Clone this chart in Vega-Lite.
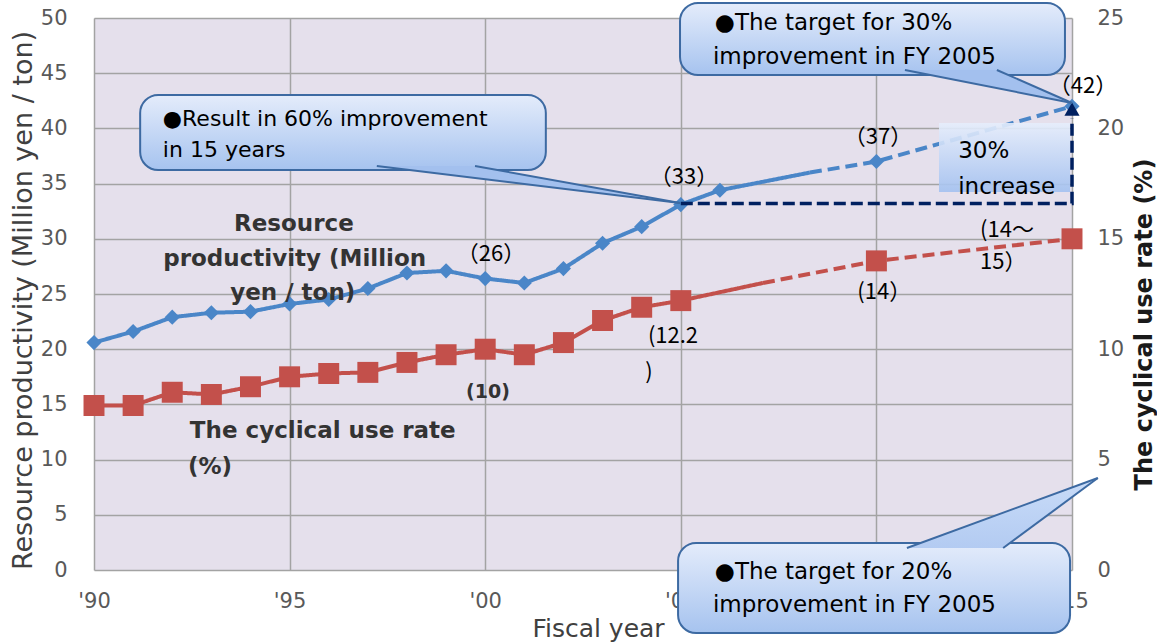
{
  "$schema": "https://vega.github.io/schema/vega-lite/v6.json",
  "width": 978,
  "height": 552,
  "autosize": {"type": "none"},
  "padding": {"left": 94, "top": 18, "right": 85, "bottom": 73},
  "background": "white",
  "config": {
    "view": {"fill": "#E5E0EC", "stroke": null},
    "font": "DejaVu Sans",
    "axis": {
      "gridColor": "#A3A3A3", "gridWidth": 1.5, "gridOpacity": 1,
      "domain": false, "ticks": false,
      "labelFont": "DejaVu Sans", "labelFontSize": 21, "labelColor": "#595959",
      "titleFont": "DejaVu Sans", "labelOverlap": false, "labelFlush": false
    }
  },
  "datasets": {
    "productivity": [
      {"year": 1990, "v": 20.6, "seg": "actual", "m": 1},
      {"year": 1991, "v": 21.6, "seg": "actual", "m": 1},
      {"year": 1992, "v": 22.9, "seg": "actual", "m": 1},
      {"year": 1993, "v": 23.3, "seg": "actual", "m": 1},
      {"year": 1994, "v": 23.4, "seg": "actual", "m": 1},
      {"year": 1995, "v": 24.1, "seg": "actual", "m": 1},
      {"year": 1996, "v": 24.5, "seg": "actual", "m": 1},
      {"year": 1997, "v": 25.5, "seg": "actual", "m": 1},
      {"year": 1998, "v": 26.9, "seg": "actual", "m": 1},
      {"year": 1999, "v": 27.1, "seg": "actual", "m": 1},
      {"year": 2000, "v": 26.4, "seg": "actual", "m": 1},
      {"year": 2001, "v": 26.0, "seg": "actual", "m": 1},
      {"year": 2002, "v": 27.3, "seg": "actual", "m": 1},
      {"year": 2003, "v": 29.6, "seg": "actual", "m": 1},
      {"year": 2004, "v": 31.1, "seg": "actual", "m": 1},
      {"year": 2005, "v": 33.1, "seg": "actual", "m": 1},
      {"year": 2006, "v": 34.4, "seg": "actual", "m": 1},
      {"year": 2008.3, "v": 36.0, "seg": "actual", "m": 0},
      {"year": 2008.3, "v": 36.0, "seg": "target", "m": 0},
      {"year": 2010, "v": 37.0, "seg": "target", "m": 1},
      {"year": 2015, "v": 42.0, "seg": "target", "m": 1}
    ],
    "rate": [
      {"year": 1990, "v": 7.45, "seg": "actual", "m": 1},
      {"year": 1991, "v": 7.45, "seg": "actual", "m": 1},
      {"year": 1992, "v": 8.05, "seg": "actual", "m": 1},
      {"year": 1993, "v": 7.95, "seg": "actual", "m": 1},
      {"year": 1994, "v": 8.3, "seg": "actual", "m": 1},
      {"year": 1995, "v": 8.75, "seg": "actual", "m": 1},
      {"year": 1996, "v": 8.9, "seg": "actual", "m": 1},
      {"year": 1997, "v": 8.95, "seg": "actual", "m": 1},
      {"year": 1998, "v": 9.4, "seg": "actual", "m": 1},
      {"year": 1999, "v": 9.75, "seg": "actual", "m": 1},
      {"year": 2000, "v": 10.0, "seg": "actual", "m": 1},
      {"year": 2001, "v": 9.75, "seg": "actual", "m": 1},
      {"year": 2002, "v": 10.3, "seg": "actual", "m": 1},
      {"year": 2003, "v": 11.3, "seg": "actual", "m": 1},
      {"year": 2004, "v": 11.9, "seg": "actual", "m": 1},
      {"year": 2005, "v": 12.2, "seg": "actual", "m": 1},
      {"year": 2007.1, "v": 13.0, "seg": "actual", "m": 0},
      {"year": 2007.1, "v": 13.0, "seg": "target", "m": 0},
      {"year": 2010, "v": 14.0, "seg": "target", "m": 1},
      {"year": 2015, "v": 15.0, "seg": "target", "m": 1}
    ],
    "incBox": [{"x": 2011.6, "x2": 2014.95, "y": 40.49, "y2": 34.24}],
    "bracket": [
      {"x": 2005, "y": 33.2, "o": 1},
      {"x": 2015, "y": 33.2, "o": 2},
      {"x": 2015, "y": 40.9, "o": 3}
    ],
    "arrowHead": [{"x": 2015, "y": 41.75}],
    "bubbles": [
      {"x": 1991.18, "x2": 2001.55, "y": 43.03, "y2": 36.23},
      {"x": 2004.98, "x2": 2014.82, "y": 51.36, "y2": 44.84},
      {"x": 2004.93, "x2": 2014.95, "y": 2.45, "y2": -5.71}
    ],
    "pointerArea": [
      {"id": 1, "x": 1997.23, "top": 36.6, "bot": 36.6},
      {"id": 1, "x": 1999.74, "top": 36.6, "bot": 35.51},
      {"id": 1, "x": 2004.98, "top": 33.24, "bot": 33.24},
      {"id": 2, "x": 2010.73, "top": 45.29, "bot": 45.29},
      {"id": 2, "x": 2013.08, "top": 45.29, "bot": 43.65},
      {"id": 2, "x": 2015.0, "top": 42.3, "bot": 42.3},
      {"id": 3, "x": 2010.78, "top": 1.99, "bot": 1.99},
      {"id": 3, "x": 2013.24, "top": 5.19, "bot": 1.99},
      {"id": 3, "x": 2015.66, "top": 8.33, "bot": 8.33}
    ],
    "pointerEdges": [
      {"e": "1a", "x": 1997.23, "y": 36.6},
      {"e": "1a", "x": 2004.98, "y": 33.24},
      {"e": "1b", "x": 1999.74, "y": 36.6},
      {"e": "1b", "x": 2004.98, "y": 33.24},
      {"e": "2a", "x": 2010.73, "y": 45.29},
      {"e": "2a", "x": 2015.0, "y": 42.3},
      {"e": "2b", "x": 2013.08, "y": 45.29},
      {"e": "2b", "x": 2015.0, "y": 42.3},
      {"e": "3a", "x": 2010.78, "y": 1.99},
      {"e": "3a", "x": 2015.66, "y": 8.33},
      {"e": "3b", "x": 2013.24, "y": 1.99},
      {"e": "3b", "x": 2015.66, "y": 8.33}
    ],
    "bubbleText1": [
      {"x": 1991.76, "y": 40.85, "t": "●Result in 60% improvement"},
      {"x": 1991.76, "y": 38.04, "t": "in 15 years"}
    ],
    "bubbleText23": [
      {"x": 2005.87, "y": 49.55, "t": "●The target for 30%"},
      {"x": 2005.82, "y": 46.47, "t": "improvement in FY 2005"},
      {"x": 2005.87, "y": -0.18, "t": "●The target for 20%"},
      {"x": 2005.82, "y": -3.17, "t": "improvement in FY 2005"}
    ],
    "incText": [
      {"x": 2012.09, "y": 37.95, "t": "30%"},
      {"x": 2012.09, "y": 34.69, "t": "increase"}
    ],
    "labelsCenter": [
      {"x": 2000.15, "y": 28.6, "t": "（26）"},
      {"x": 2005.08, "y": 35.6, "t": "（33）"},
      {"x": 2010.04, "y": 39.2, "t": "（37）"},
      {"x": 2015.28, "y": 43.84, "t": "（42）"},
      {"x": 2004.8, "y": 21.2, "t": "(12.2"},
      {"x": 2010.2, "y": 25.2, "t": "(14）"}
    ],
    "labelsLeft": [
      {"x": 2004.09, "y": 17.9, "t": ")"},
      {"x": 2012.65, "y": 30.8, "t": "(14～"},
      {"x": 2012.65, "y": 27.9, "t": "15）"}
    ],
    "labelsBold": [
      {"x": 2000.07, "y": 16.1, "t": "(10)"}
    ],
    "seriesCenter": [
      {"x": 1995.11, "y": 31.34, "t": "Resource"},
      {"x": 1995.13, "y": 28.17, "t": "productivity (Million"},
      {"x": 1995.08, "y": 25.09, "t": "yen /  ton)"}
    ],
    "seriesLeft": [
      {"x": 1992.45, "y": 12.6, "t": "The cyclical use rate"},
      {"x": 1992.4, "y": 9.3, "t": "(%)"}
    ]
  },
  "layer": [
    {
      "layer": [
        {
          "data": {"name": "productivity"},
          "mark": {"type": "line", "color": "#4A86C8", "strokeWidth": 4},
          "encoding": {
            "x": {
              "field": "year", "type": "quantitative",
              "scale": {"domain": [1990, 2015], "nice": false, "zero": false},
              "axis": {
                "values": [1990, 1995, 2000, 2005, 2010, 2015],
                "labelExpr": "\"'\" + substring(toString(datum.value), 2, 4)",
                "title": "Fiscal year", "titleFontSize": 25, "titleColor": "#404040",
                "titleFontWeight": "normal", "titleX": 504, "titleY": 58,
                "titleBaseline": "middle", "titleAlign": "center",
                "labelPadding": 20, "grid": true
              }
            },
            "y": {
              "field": "v", "type": "quantitative",
              "scale": {"domain": [0, 50], "nice": false, "zero": false},
              "axis": {
                "values": [0, 5, 10, 15, 20, 25, 30, 35, 40, 45, 50],
                "title": "Resource productivity (Million yen / ton)",
                "titleFontSize": 27, "titleColor": "#404040", "titleFontWeight": "normal",
                "titleX": -71, "titleY": 282, "titleAngle": 270,
                "titleAlign": "center", "titleBaseline": "middle",
                "labelPadding": 27, "grid": true
              }
            },
            "strokeDash": {
              "field": "seg", "type": "nominal",
              "scale": {"domain": ["actual", "target"], "range": [[1, 0], [12, 6]]},
              "legend": null
            }
          }
        },
        {
          "data": {"name": "productivity"},
          "transform": [{"filter": "datum.m == 1"}],
          "mark": {"type": "point", "shape": "diamond", "filled": true, "color": "#4A86C8", "size": 230, "opacity": 1},
          "encoding": {
            "x": {"field": "year", "type": "quantitative"},
            "y": {"field": "v", "type": "quantitative"}
          }
        },
        {
          "data": {"name": "incBox"},
          "mark": {
            "type": "rect", "opacity": 0.9,
            "fill": {"gradient": "linear", "x1": 0, "y1": 0, "x2": 0, "y2": 1,
              "stops": [{"offset": 0, "color": "#E6EEFC"}, {"offset": 1, "color": "#A3C1F0"}]}
          },
          "encoding": {
            "x": {"field": "x", "type": "quantitative"},
            "x2": {"field": "x2"},
            "y": {"field": "y", "type": "quantitative"},
            "y2": {"field": "y2"}
          }
        },
        {
          "data": {"name": "bracket"},
          "mark": {"type": "line", "color": "#002060", "strokeWidth": 3.5, "strokeDash": [12, 5]},
          "encoding": {
            "x": {"field": "x", "type": "quantitative"},
            "y": {"field": "y", "type": "quantitative"},
            "order": {"field": "o", "type": "quantitative"}
          }
        },
        {
          "data": {"name": "arrowHead"},
          "mark": {"type": "point", "shape": "triangle-up", "filled": true, "color": "#002060", "size": 230, "opacity": 1},
          "encoding": {
            "x": {"field": "x", "type": "quantitative"},
            "y": {"field": "y", "type": "quantitative"}
          }
        },
        {
          "data": {"name": "bubbles"},
          "mark": {
            "type": "rect", "cornerRadius": 18, "stroke": "#3D6AA2", "strokeWidth": 2,
            "fill": {"gradient": "linear", "x1": 0, "y1": 0, "x2": 0, "y2": 1,
              "stops": [{"offset": 0, "color": "#E4ECFB"}, {"offset": 1, "color": "#A6C3EF"}]}
          },
          "encoding": {
            "x": {"field": "x", "type": "quantitative"},
            "x2": {"field": "x2"},
            "y": {"field": "y", "type": "quantitative"},
            "y2": {"field": "y2"}
          }
        },
        {
          "data": {"name": "pointerArea"},
          "transform": [{"filter": "datum.id != 3"}],
          "mark": {"type": "area", "fill": "#A3C0EE", "fillOpacity": 1, "opacity": 1},
          "encoding": {
            "x": {"field": "x", "type": "quantitative"},
            "y": {"field": "top", "type": "quantitative"},
            "y2": {"field": "bot"},
            "detail": {"field": "id", "type": "nominal"}
          }
        },
        {
          "data": {"name": "pointerArea"},
          "transform": [{"filter": "datum.id == 3"}],
          "mark": {
            "type": "area", "opacity": 1, "fillOpacity": 1,
            "fill": {"gradient": "linear", "x1": 0, "y1": 0, "x2": 0, "y2": 1,
              "stops": [{"offset": 0, "color": "#C9DCF8"}, {"offset": 1, "color": "#B3CBF2"}]}
          },
          "encoding": {
            "x": {"field": "x", "type": "quantitative"},
            "y": {"field": "top", "type": "quantitative"},
            "y2": {"field": "bot"}
          }
        },
        {
          "data": {"name": "pointerEdges"},
          "mark": {"type": "line", "color": "#3D6AA2", "strokeWidth": 2},
          "encoding": {
            "x": {"field": "x", "type": "quantitative"},
            "y": {"field": "y", "type": "quantitative"},
            "detail": {"field": "e", "type": "nominal"}
          }
        },
        {
          "data": {"name": "bubbleText1"},
          "mark": {"type": "text", "align": "left", "baseline": "middle", "fontSize": 22, "color": "#000000", "font": "DejaVu Sans"},
          "encoding": {
            "x": {"field": "x", "type": "quantitative"},
            "y": {"field": "y", "type": "quantitative"},
            "text": {"field": "t"}
          }
        },
        {
          "data": {"name": "bubbleText23"},
          "mark": {"type": "text", "align": "left", "baseline": "middle", "fontSize": 23, "color": "#000000", "font": "DejaVu Sans"},
          "encoding": {
            "x": {"field": "x", "type": "quantitative"},
            "y": {"field": "y", "type": "quantitative"},
            "text": {"field": "t"}
          }
        },
        {
          "data": {"name": "incText"},
          "mark": {"type": "text", "align": "left", "baseline": "middle", "fontSize": 23, "color": "#000000", "font": "DejaVu Sans"},
          "encoding": {
            "x": {"field": "x", "type": "quantitative"},
            "y": {"field": "y", "type": "quantitative"},
            "text": {"field": "t"}
          }
        },
        {
          "data": {"name": "labelsCenter"},
          "mark": {"type": "text", "align": "center", "baseline": "middle", "fontSize": 22, "color": "#000000", "font": "Noto Sans CJK JP"},
          "encoding": {
            "x": {"field": "x", "type": "quantitative"},
            "y": {"field": "y", "type": "quantitative"},
            "text": {"field": "t"}
          }
        },
        {
          "data": {"name": "labelsLeft"},
          "mark": {"type": "text", "align": "left", "baseline": "middle", "fontSize": 22, "color": "#000000", "font": "Noto Sans CJK JP"},
          "encoding": {
            "x": {"field": "x", "type": "quantitative"},
            "y": {"field": "y", "type": "quantitative"},
            "text": {"field": "t"}
          }
        },
        {
          "data": {"name": "labelsBold"},
          "mark": {"type": "text", "align": "center", "baseline": "middle", "fontSize": 19, "fontWeight": "bold", "color": "#333333", "font": "DejaVu Sans"},
          "encoding": {
            "x": {"field": "x", "type": "quantitative"},
            "y": {"field": "y", "type": "quantitative"},
            "text": {"field": "t"}
          }
        },
        {
          "data": {"name": "seriesCenter"},
          "mark": {"type": "text", "align": "center", "baseline": "middle", "fontSize": 23, "fontWeight": "bold", "color": "#333333", "font": "DejaVu Sans"},
          "encoding": {
            "x": {"field": "x", "type": "quantitative"},
            "y": {"field": "y", "type": "quantitative"},
            "text": {"field": "t"}
          }
        },
        {
          "data": {"name": "seriesLeft"},
          "mark": {"type": "text", "align": "left", "baseline": "middle", "fontSize": 23, "fontWeight": "bold", "color": "#333333", "font": "DejaVu Sans"},
          "encoding": {
            "x": {"field": "x", "type": "quantitative"},
            "y": {"field": "y", "type": "quantitative"},
            "text": {"field": "t"}
          }
        }
      ]
    },
    {
      "layer": [
        {
          "data": {"name": "rate"},
          "mark": {"type": "line", "color": "#C3504B", "strokeWidth": 4},
          "encoding": {
            "x": {"field": "year", "type": "quantitative"},
            "y": {
              "field": "v", "type": "quantitative",
              "scale": {"domain": [0, 25], "nice": false, "zero": false},
              "axis": {
                "orient": "right",
                "values": [0, 5, 10, 15, 20, 25],
                "title": "The cyclical use rate (%)",
                "titleFontSize": 24, "titleFontWeight": "bold", "titleColor": "#1A1A1A",
                "titleAngle": 270, "titleX": 72, "titleY": 306,
                "titleAlign": "center", "titleBaseline": "middle",
                "labelPadding": 25, "grid": false
              }
            },
            "strokeDash": {
              "field": "seg", "type": "nominal",
              "scale": {"domain": ["actual", "target"], "range": [[1, 0], [12, 5]]},
              "legend": null
            }
          }
        },
        {
          "data": {"name": "rate"},
          "transform": [{"filter": "datum.m == 1"}],
          "mark": {"type": "point", "shape": "square", "filled": true, "color": "#C3504B", "size": 440, "opacity": 1},
          "encoding": {
            "x": {"field": "year", "type": "quantitative"},
            "y": {"field": "v", "type": "quantitative"}
          }
        }
      ]
    }
  ],
  "resolve": {"scale": {"y": "independent"}}
}
